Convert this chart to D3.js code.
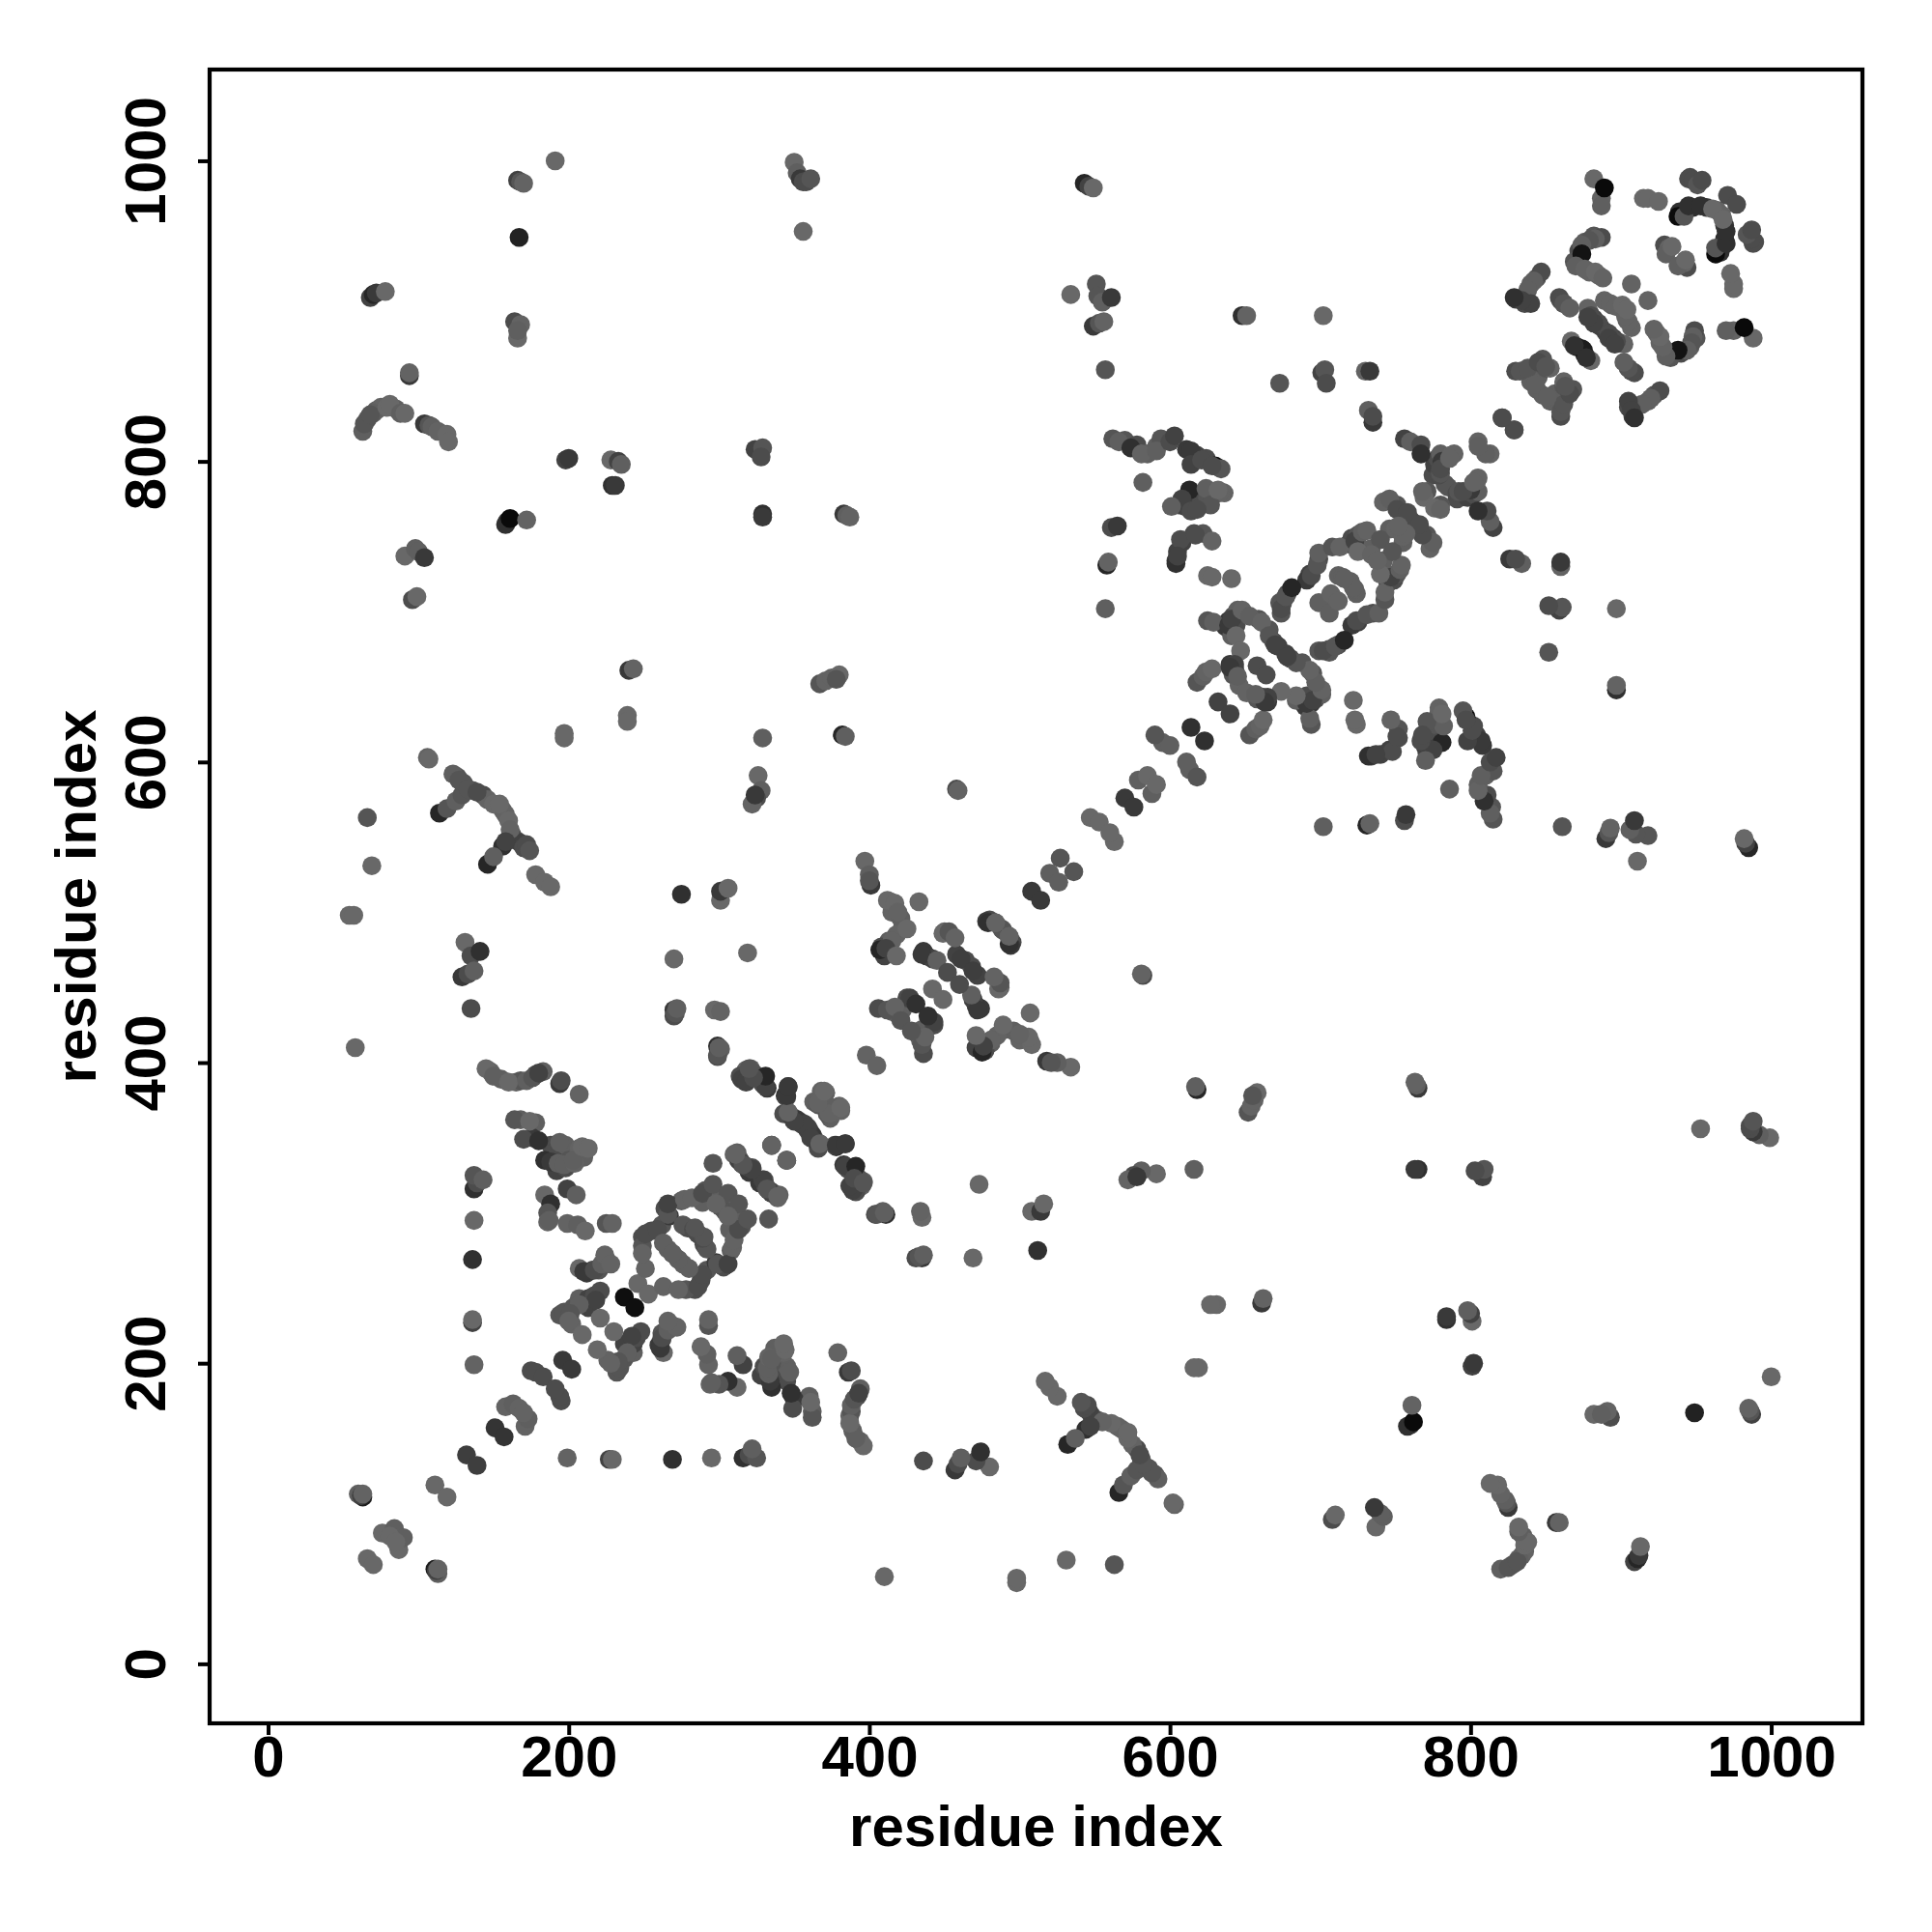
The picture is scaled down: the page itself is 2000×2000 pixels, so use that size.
<!DOCTYPE html>
<html><head><meta charset="utf-8">
<script src="https://cdnjs.cloudflare.com/ajax/libs/d3/7.8.5/d3.min.js"></script>
<style>html,body{margin:0;background:#fff}svg{display:block}text{font-family:"Liberation Sans",Arial,sans-serif;font-weight:700;fill:#000}</style>
</head><body><svg id="c" width="2000" height="2000"></svg>
<script>
const tickValues=[0,200,400,600,800,1000];
const xLabel="residue index", yLabel="residue index";
// contacts [residue i, residue j, score]; the map is symmetric, so each pair is drawn both ways
const contactsChains=[[72,834,.1],[75,836,.05],[85,835,.1],[66,828,.2],[70,832,.1],
[126,590,.2],[130,586,.2],[136,581,.2],[143,578,.3],[146,575,.05],[156,568,.05],[158,565,.05],[162,552,.1],[165,548,.3],[168,546,.4],[170,543,.3],
[148,394,.05],[155,389,.1],[165,387,.05],[168,388,.2],[178,392,.3],[183,394,.1],[168,362,.1],[178,360,.1],[176,350,.5],[188,345,.3],[190,340,.3],[198,345,.1],[192,328,.4],[198,330,.3],[200,335,.2],[210,337,.1],[207,343,.05],
[255,288,.3],[262,292,.2],[249,284,.3],[264,303,.3],[267,298,.5],[275,308,.1],[291,315,.2],[293,310,.2],[296,312,.1],[289,307,.1],[301,304,.2],[269,273,.3],[279,290,.3],[286,286,.3],
[194,232,.2],[197,234,.2],[203,237,.2],[207,243,.1],[213,243,.4],[217,245,.3],[213,237,.4],[202,226,.05],[220,262,.2],[225,269,.1],[216,262,.4],[212,260,.5],
[310,339,.05],[314,335,.3],[319,330,.2],[327,320,.5],[331,318,.3],[335,313,.4],[343,366,.3],[349,363,.5],[355,360,.4],[359,355,.4],[363,350,.2],[378,344,.6],[383,332,.5],
[318,395,.05],[321,396,.05],[314,391,.3],[329,386,.4],[363,374,.1],[371,370,.1],[376,367,.05],[380,371,.05],
[639,694,.5],[642,697,.3],[645,701,.1],[637,690,.5],[641,684,.1],[644,691,.3],[640,665,.5],[643,662,.4],[642,658,.2],[646,651,.05],[659,695,.2],[666,688,.2],[669,680,.3],[672,677,.4],
[693,725,.4],[691,721,.5],[678,712,.3],[673,706,.2],[674,699,.2],[699,735,.3],[721,749,.3],[725,751,.2],[727,742,.05],[734,742,.1],[719,745,.3],[712,724,.1],[720,720,.1],[708,710,.05],
[745,774,.2],[751,771,.2],[755,765,.3],[761,760,.3],[746,755,.1],[775,791,.3],[776,798,.4],[778,802,.3],[780,805,.1],[783,785,.2],
[414,507,0],[415,500,.05],[421,496,.1],[422,490,.1],[418,485,.05],[413,481,.1],[408,477,.3],[410,471,.4],[436,474,.5],[438,471,.5],[442,469,.4],[450,487,.1],[458,472,.4],[464,468,.3],[480,495,.3],[489,488,.2],[406,436,.3],[415,434,.1],[422,435,.1],[419,432,.1],[425,443,.3],
[845,856,.1],[840,853,.1],[844,848,.1],[830,860,.3],[850,862,.2],[859,909,.3],[862,905,.2],[879,899,.3],[882,895,.4],[886,890,.4],[889,907,.05],[894,904,.1],
[882,950,.2],[876,946,.1],[872,940,.3],[869,933,.2],[879,926,.05],[885,924,.05],[840,918,.1],[844,922,.2],[830,908,.5],[837,909,.3],[836,905,.3],
[939,966,.6],[948,969,.6],[957,969,.5],[964,967,.05],[946,989,.3],
[570,814,.2],[578,811,.3],[585,805,.1],[591,810,.1],[594,815,.2],[611,808,.5],[618,804,.4],[624,802,.3],
[606,771,.3],[610,770,.4],[617,771,.4],[621,774,.3],[625,776,.2],[630,779,.1],[636,779,.05],[608,746,.4],[616,752,.3],[622,752,.2],[605,740,.4],[604,734,.4]];
const contactsFarTop=[[166,987,.4],[168,986,.2],[170,985,.05],[191,1000,0],[167,949,.75],
[350,999,0],[352,992,.1],[354,988,.5],[356,986,.3],[358,986,.3],[361,988,.2],[356,953,0],
[68,909,.4],[70,911,.7],[72,912,.5],[78,913,0],[164,893,.3],[166,882,0],[168,891,.05],[166,887,.1],
[94,857,.5],[94,859,.05],[63,820,.1],[64,825,.2],[68,831,.2],[79,836,0],[81,838,0],[88,832,.1],[91,832,0],
[104,825,.5],[107,824,.2],[109,823,.1],[113,820,.05],[119,818,0],[120,813,0],
[198,801,.4],[200,802,.5],[228,801,0],[233,800,.4],[235,798,.1],[229,784,.6],[231,784,.5],
[324,808,.4],[329,809,.2],[328,803,.3],[329,765,.6],[329,763,.5],[383,765,.5],[385,764,.1],[387,763,.05],
[159,760,.5],[158,758,.6],[161,762,1],[172,761,.05],[91,737,0],[98,742,.1],[100,740,.1],[104,736,.5],[96,708,.3],[99,710,0],
[240,661,.5],[243,662,.05],[239,631,0],[239,627,0],[367,652,.2],[371,654,.05],[375,656,.05],[380,658,0],[378,655,.2],
[382,618,.7],[384,617,.1],[329,616,.1],[197,619,0],[197,616,0]];
const contactsFarMiddle=[[326,591,0],[328,581,.1],[325,576,.3],[322,572,.05],[324,578,.5],[106,603,.05],[107,602,0],
[114,566,.7],[119,569,.2],[125,574,.1],[129,578,.2],[123,592,.1],[127,588,.2],[133,582,.2],[139,580,.3],
[150,572,0],[154,572,0],[160,561,0],[161,555,.05],[156,544,.6],[158,547,.4],[172,545,.3],[174,541,.2],
[146,532,.7],[150,537,.1],[178,525,0],[184,520,0],[188,517,0],[66,563,.2],[69,531,0],[54,498,0],[57,498,0],
[458,582,.3],[459,581,.05],[397,534,0],[400,525,.1],[401,518,.5],[400,521,.2],[275,512,.6],[301,508,0],[301,514,.5],[306,516,0],
[270,469,0],[319,473,0],[433,507,0],[412,508,0],[417,506,0],[419,500,.05],[425,489,0],[415,481,.05],[407,475,.7],[411,476,.4],[418,471,0],
[131,480,0],[135,471,.3],[141,474,.6],[129,457,.5],[133,459,.3],[137,461,.1],[135,436,.3],[58,410,0]];
const contactsMiddleLeft=[[270,435,.5],[270,431,.3],[271,433,.2],[272,436,.1],[297,435,0],[301,434,.05],[299,411,.6],[299,404,.3],[301,409,.1],
[145,396,0],[150,391,.1],[160,387,0],[172,388,.1],[176,390,.2],[180,393,.4],[194,386,.5],[195,388,.3],[207,379,.05],
[164,362,.2],[174,361,0],[170,349,.3],[180,348,.6],[184,335,.6],[188,334,.5],[193,333,.1],[194,347,.1],[197,332,.1],[204,333,.05],[203,335,.1],[209,344,0],[213,343,0],
[137,316,.6],[139,320,.3],[137,325,.2],[143,322,.1],[184,312,0],[188,306,.6],[186,300,.2],[186,294,.05],[187,295,.1],[199,316,.4],[205,312,.1],
[199,293,.05],[206,292,.1],[211,288,0],[225,293,.2],[229,293,.05],[137,295,0],[136,269,.6],[136,227,.4],[136,229,0],[137,199,.05]];
const contactsDiagonalA=[[111,119,0],[60,113,.1],[63,111,.8],[66,70,0],[76,87,0],[84,90,.1],[81,85,0],[112,62,.4],[113,63,.05],[132,139,.45],[151,157,.55],
[158,171,.05],[163,173,.1],[167,170,.05],[175,195,.3],[178,194,.3],[183,191,.3],[196,202,.5],
[207,263,0],[210,261,.5],[217,262,.3],[222,266,.1],[224,272,.05],[228,266,.05],[221,248,.3],[218,242,.4],[207,239,.1],[201,233,.2],[200,228,.05],[209,219,0],[221,230,0],
[237,244,.95],[246,253,0],[251,263,.05],[249,278,.2],[249,273,.05],[251,286,.3],[259,289,.3],[266,299,.2],[266,306,.4],[277,309,.05],[282,310,.05],[289,313,.3],[296,319,.2],
[306,313,.2],[266,276,.1],[263,280,.1],[273,269,.1],[276,292,.2],[283,289,.3],[290,284,.2],[296,333,.2],[298,306,.05],[312,340,.1],[315,333,.4],[322,330,.3],[329,322,.4],[332,316,.2],[339,311,.05],
[335,345,.65],[345,335,.05],[319,392,.5],[323,393,.2],[315,389,.4],[330,390,.7],[330,385,.2],[346,384,.5],[345,377,.3],[346,367,.2],[352,362,.5],[357,359,.4],[361,350,.4],[367,346,.05],[378,345,.5],[384,346,.5],
[368,381,.05],[370,375,.1],[366,372,.2],[373,366,.05],[381,370,0],[384,331,.4],[391,331,.7],[387,318,.4],[390,323,.3],[396,320,.2],[405,299,.2],[410,300,.1],[398,405,.05]];
const contactsDiagonalB=[[449,486,0],[453,487,.2],[457,483,.05],[478,494,.5],[484,493,.1],[493,479,.6],[493,484,.05],
[435,472,.5],[445,468,.1],[461,469,.45],[452,460,.3],[442,449,0],[427,443,.4],[431,439,.6],[412,435,.2],[417,437,.05],[421,428,.2],
[508,514,.5],[527,536,.2],[520,526,.1],[547,563,0],[553,560,0],[570,576,.5],[579,588,.1],[585,591,0],
[595,613,.1],[600,611,.1],[590,618,.2],[614,623,.6],[632,640,.4],[618,653,.2],[622,657,.1],[624,660,.05],[628,662,0],[625,694,.2],[629,693,.1],
[639,691,.5],[641,695,.4],[648,701,.05],[644,684,0],[647,674,0],[643,665,.4],[640,663,.5],[645,657,.1],[653,697,.1],[661,693,.05],[666,684,.2],[670,678,.4],[658,664,.3],
[675,706,.2],[674,702,.3],[677,710,.2],[681,716,.7],[694,724,.3],[698,731,.2],[699,739,.1],[708,743,.2],[713,743,.05],[723,747,.4],[728,753,.1],[731,754,.05],[725,740,0],
[699,706,.1],[707,712,.05],[715,723,.1],[722,716,.1],[740,748,.2],[734,738,.05],[742,773,.05],[746,775,.1],[751,768,.3],[758,766,.3],[750,755,.05],[757,752,.05],
[771,780,.2],[781,800,.5],[779,791,.3],[787,804,.05],[805,789,.05],[792,780,.2],[769,776,0],[780,768,.05],[780,795,.3],[786,802,.05],
[805,813,.05],[810,805,.1],[821,829,.25],[829,821,.3]];
const contactsUpperRight=[[543,985,.7],[546,983,.4],[549,982,0],[534,911,0],[551,918,.2],[552,910,.2],[555,906,.1],[561,909,.5],[549,890,.5],[553,892,.2],[556,893,.05],[557,861,.2],
[648,897,.6],[651,897,.05],[702,897,0],[673,852,.2],[701,859,.4],[703,861,.2],[704,852,.3],[730,860,.05],[733,860,.5],[732,834,.1],[735,826,.5],[735,830,.3],
[756,815,.4],[760,813,.1],[767,811,.3],[767,805,.6],[562,815,.2],[566,813,.1],[574,809,.6],[581,805,.05],[591,807,.1],[600,813,.3],[603,817,.4],
[614,807,.5],[614,798,.4],[621,801,.3],[630,797,1],[634,795,.2],[628,797,.3],[582,786,.1],[613,781,.7],[608,775,.4],[601,770,.1],[614,767,.3],[624,782,.1],[633,779,.05],[627,771,.2],[618,768,.3],[632,781,0],
[561,756,.3],[565,757,.5],[558,731,.7],[559,733,.05],[557,702,.1],[607,748,.3],[617,751,.3],[628,747,.05],[604,732,.6],[605,737,.4],[625,724,0],[628,723,0],[641,722,0],
[882,988,0],[887,975,.05],[887,970,.1],[889,982,1],[915,975,0],[918,975,0],[925,973,0],[945,988,.3],[948,987,.3],[951,984,.2],[954,987,.3],[971,977,.3],
[938,963,1],[942,963,.2],[945,970,.6],[953,970,.6],[961,968,0],[929,944,.3],[932,942,.05],[930,938,.1],[934,943,0],
[887,949,.3],[883,948,.1],[879,947,.2],[874,944,.1],[874,938,.9],[870,930,.1],[876,928,.05],[883,926,0],[888,922,.05],[907,918,.05],
[847,926,.3],[842,920,.1],[838,914,.1],[840,905,.4],[834,907,.4],[829,909,.6],[860,907,.3],[862,905,.2],[866,902,.1],[878,902,.05],[880,897,.3],[885,892,.3],[893,905,.05],[897,903,.05],[901,904,0],
[892,882,.4],[896,878,.4],[867,880,0],[871,876,.85],[875,874,.8],[869,877,.6],[833,860,.2],[838,862,.2],[848,868,.2],[853,862,.05],[843,851,.1],[845,866,.3],[850,863,.2]];
const allContacts=[contactsChains,contactsFarTop,contactsFarMiddle,contactsMiddleLeft,contactsDiagonalA,contactsDiagonalB,contactsUpperRight].flat();
const mirrored=allContacts.flatMap(d=>[{x:d[0],y:d[1],s:d[2]},{x:d[1],y:d[0],s:d[2]}]);

const svg=d3.select("#c");
const L=217,R=1928,T=72,B=1784;
const x=d3.scaleLinear().domain([-38.9,1060.7]).range([L,R]);
const y=d3.scaleLinear().domain([-39.6,1060.7]).range([B,T]);
const shade=d3.scaleLinear().domain([0,1]).range(["#686868","#0a0a0a"]);

svg.append("g").selectAll("circle").data(mirrored).join("circle")
 .attr("cx",d=>x(d.x)).attr("cy",d=>y(d.y)).attr("r",9.8).attr("fill",d=>shade(d.s));

const fmt=d3.format("d");
const ax=svg.append("g").attr("transform",`translate(0,${B})`)
 .call(d3.axisBottom(x).tickValues(tickValues).tickFormat(fmt).tickSize(12).tickPadding(14).tickSizeOuter(0));
const ay=svg.append("g").attr("transform",`translate(${L},0)`)
 .call(d3.axisLeft(y).tickValues(tickValues).tickFormat(fmt).tickSize(12).tickPadding(14).tickSizeOuter(0));
[ax,ay].forEach(g=>{g.select(".domain").remove();g.selectAll("line").attr("stroke","#000").attr("stroke-width",4);
 g.selectAll("text").style("font-size","60px").style("font-family","Liberation Sans").style("font-weight",700).attr("fill","#000");});
ax.selectAll("text").attr("dy",null).attr("y",55);
ay.selectAll("text").attr("x",null).attr("dy",null).attr("text-anchor","middle")
 .attr("transform","translate(-46,0) rotate(-90)");
svg.append("rect").attr("x",L).attr("y",T).attr("width",R-L).attr("height",B-T).attr("fill","none").attr("stroke","#000").attr("stroke-width",4.2);
svg.append("text").attr("x",(L+R)/2).attr("y",1911).attr("text-anchor","middle").style("font-size","60px").text(xLabel);
svg.append("text").attr("transform",`translate(99,${(T+B)/2}) rotate(-90)`).attr("text-anchor","middle").style("font-size","60px").text(yLabel);
</script></body></html>
